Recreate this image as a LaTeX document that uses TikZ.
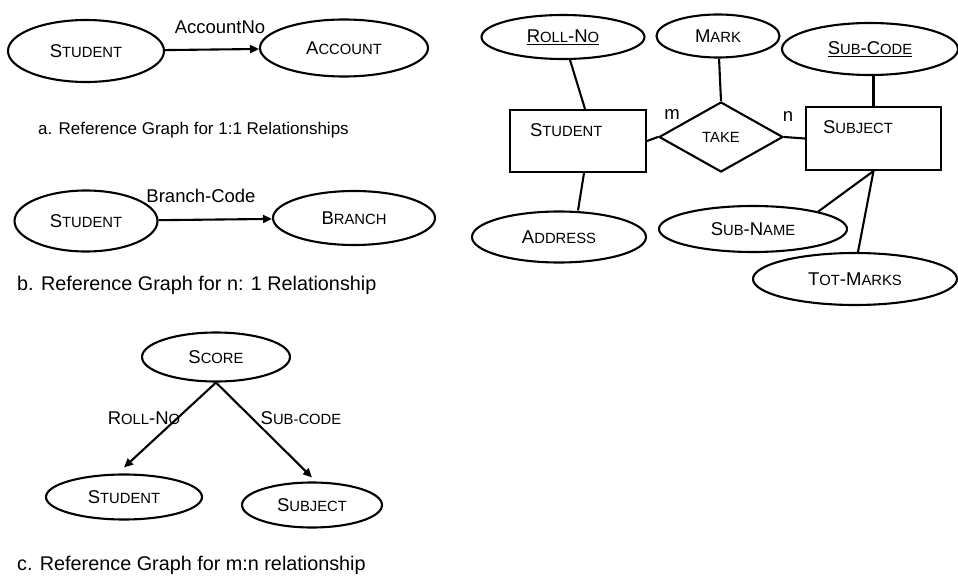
\documentclass[tikz,border=0pt]{standalone}
\usepackage{fontspec}
\setmainfont{Liberation Sans}
\usetikzlibrary{shapes.geometric,arrows.meta}
% smaller capitals for the small-caps lettering
\newcommand\lc[1]{{\fontsize{14.8bp}{16bp}\selectfont #1}}
\begin{document}
\begin{tikzpicture}[x=1bp,y=-1bp,
  every node/.style={font=\fontsize{18.5bp}{20bp}\selectfont, inner sep=0pt},
  ent/.style={ellipse, draw, line width=2.1bp},
  box/.style={rectangle, draw, line width=2.1bp, text height=14bp, text depth=23bp, align=left},
  rel/.style={diamond, draw, line width=2.1bp, aspect=1.77},
  link/.style={line width=2.1bp},
  arr/.style={line width=2.1bp, -{Triangle[length=9bp,width=8bp]}},
  caption/.style={anchor=west, font=\fontsize{19.8bp}{22bp}\selectfont}
]
\useasboundingbox (0,0) rectangle (958,579);

% ---- a. one-to-one
\node[ent, minimum width=156bp, minimum height=62bp] (sa) at (86,51) {S\lc{TUDENT}};
\node[ent, minimum width=168bp, minimum height=57bp] (acc) at (344,48) {A\lc{CCOUNT}};
\draw[arr] (sa) -- (acc);
\node (accno) at (220,27) {AccountNo};
\node[caption, font=\fontsize{17bp}{20bp}\selectfont] (capa) at (38,130) {a. Reference Graph for 1:1 Relationships};

% ---- b. many-to-one
\node[ent, minimum width=143bp, minimum height=61bp] (sb) at (86,221) {S\lc{TUDENT}};
\node[ent, minimum width=162bp, minimum height=54bp] (br) at (354,218) {B\lc{RANCH}};
\draw[arr] (sb) -- (br);
\node (brcode) at (201,196) {Branch-Code};
\node[caption] (capb) at (17,285) {b. Reference Graph for n: 1 Relationship};

% ---- c. many-to-many
\node[ent, minimum width=148bp, minimum height=49bp] (score) at (216,357) {S\lc{CORE}};
\node[ent, minimum width=156bp, minimum height=45bp] (st2) at (124,497) {S\lc{TUDENT}};
\node[ent, minimum width=140bp, minimum height=45bp] (sj2) at (312,505) {S\lc{UBJECT}};
\draw[arr] (score.south) -- ([yshift=6bp]st2.north);
\draw[arr] (score.south) -- ([yshift=4bp]sj2.north);
\node (rno) at (144,418) {R\lc{OLL}-N\lc{O}};
\node (scode) at (301,418) {S\lc{UB-CODE}};
\node[caption] (capc) at (17,565) {c. Reference Graph for m:n relationship};

% ---- E-R diagram
\node[box, minimum width=136bp, minimum height=62bp, text width=96bp] (stud) at (578,141) {S\lc{TUDENT}};
\node[box, minimum width=135bp, minimum height=63bp, text width=101bp] (subj) at (873.5,138.5) {S\lc{UBJECT}};
\node[rel, minimum width=124bp, minimum height=70bp] (take) at (721,137) {\lc{TAKE}};

\node[ent, minimum width=163bp, minimum height=44bp] (rollno) at (563,37) {\underline{R\lc{OLL}-N\lc{O}}};
\node[ent, minimum width=123bp, minimum height=43bp] (mark) at (718,36) {M\lc{ARK}};
\node[ent, minimum width=176bp, minimum height=52bp] (subcode) at (870,49) {\underline{S\lc{UB}-C\lc{ODE}}};
\node[ent, minimum width=174bp, minimum height=51bp] (addr) at (559,237) {A\lc{DDRESS}};
\node[ent, minimum width=188bp, minimum height=46bp] (subname) at (753,229) {S\lc{UB}-N\lc{AME}};
\node[ent, minimum width=204bp, minimum height=52bp] (totm) at (855,279) {T\lc{OT}-M\lc{ARKS}};

\draw[link] (rollno) -- ([xshift=7bp]stud.north);
\draw[link] (mark) -- (take.north);
\draw[link] (subj.north) -- (subj.north |- subcode.south);
\draw[link] (stud.east) -- (take.west);
\draw[link] (take.east) -- (subj.west);
\draw[link] ([xshift=6bp]stud.south) -- ([xshift=19bp]addr.north);
\draw[link] (subj.south) -- (subname.15);
\draw[link] (subj.south) -- ([xshift=3bp]totm.north);

\node (mlab) at (672,115) {m};
\node (nlab) at (788,117) {n};
\end{tikzpicture}
\end{document}
